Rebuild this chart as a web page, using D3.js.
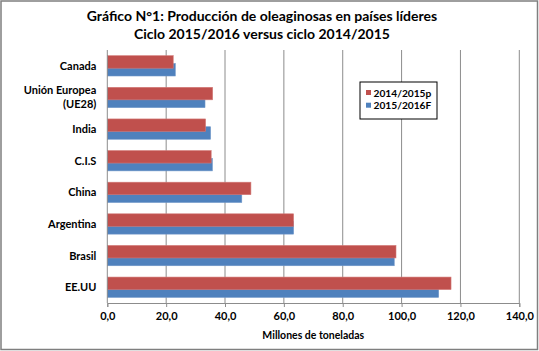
<!DOCTYPE html>
<html>
<head>
<meta charset="utf-8">
<script src="https://cdn.jsdelivr.net/npm/d3@7"></script>
<style>
  body { margin: 0; background: #fff; }
  text { font-family: Lato, "Open Sans", sans-serif; font-weight: bold; fill: #000; }
</style>
</head>
<body>
<div id="chart"></div>
<script>
// data (millones de toneladas)
var paises = ["Canada", "Unión Europea|(UE28)", "India", "C.I.S", "China", "Argentina", "Brasil", "EE.UU"];
var serie2014 = [22.4, 35.8, 33.4, 35.3, 48.8, 63.3, 98.1, 116.8];
var serie2015 = [23.1, 33.2, 35.1, 35.7, 45.7, 63.3, 97.5, 112.6];
var seriesNames = ["2014/2015p", "2015/2016F"];
var xTicks = [0, 20, 40, 60, 80, 100, 120, 140];

var W = 539, H = 351;
var margin = {top: 50, right: 19.7, bottom: 48, left: 107.3};
var width = W - margin.left - margin.right,
    height = H - margin.top - margin.bottom;

var svg = d3.select("#chart").append("svg")
    .attr("width", W)
    .attr("height", H);

// outer frame
svg.append("rect")
    .attr("x", 1).attr("y", 1)
    .attr("width", W - 2.5).attr("height", H - 2.5)
    .attr("fill", "#fff")
    .attr("stroke", "#7f7f7f")
    .attr("stroke-width", 1.5);

// title
svg.append("text")
    .attr("x", 262).attr("y", 21)
    .attr("text-anchor", "middle")
    .style("font-size", "14px")
    .text("Gráfico N°1: Producción de oleaginosas en países líderes");
svg.append("text")
    .attr("x", 262).attr("y", 39)
    .attr("text-anchor", "middle")
    .style("font-size", "14px")
    .text("Ciclo 2015/2016 versus ciclo 2014/2015");

var g = svg.append("g")
    .attr("transform", "translate(" + margin.left + "," + margin.top + ")");

var x = d3.scaleLinear().domain([0, 140]).range([0, width]);
var y = d3.scaleBand().domain(paises).range([0, height]).paddingInner(0.36).paddingOuter(0.18);

// vertical gridlines
g.selectAll(".grid").data(xTicks.slice(1)).enter()
  .append("line")
    .attr("x1", function(d) { return x(d); })
    .attr("x2", function(d) { return x(d); })
    .attr("y1", 0).attr("y2", height)
    .attr("stroke", "#8c8c8c")
    .attr("stroke-width", 1);

// bars: blue below, red on top, overlapping a bit
var barH = 12.5, overlap = 4.7;
var group = g.selectAll(".pais").data(paises).enter().append("g");

group.append("rect")
    .attr("x", 0)
    .attr("y", function(d) { return y(d) + barH - overlap; })
    .attr("width", function(d, i) { return x(serie2015[i]); })
    .attr("height", barH)
    .attr("fill", "#4f81bd")
    .attr("stroke", "#6f96c8")
    .attr("stroke-width", 0.6);

group.append("rect")
    .attr("x", 0)
    .attr("y", function(d) { return y(d); })
    .attr("width", function(d, i) { return x(serie2014[i]); })
    .attr("height", barH)
    .attr("fill", "#c0504d")
    .attr("stroke", "#d27a78")
    .attr("stroke-width", 0.6);

// x axis
var xAxis = g.append("g")
    .attr("transform", "translate(0," + height + ")")
    .call(d3.axisBottom(x).tickValues(xTicks).tickSize(4).tickPadding(5)
      .tickFormat(function(d) { return d3.format(".1f")(d).replace(".", ","); }));
xAxis.select(".domain").attr("stroke", "#8c8c8c");
xAxis.selectAll(".tick line").attr("stroke", "#8c8c8c");
xAxis.selectAll("text").style("font-size", "11px").style("font-family", "Lato, sans-serif");

// left axis line
g.append("line")
    .attr("x1", 0).attr("x2", 0).attr("y1", 0).attr("y2", height)
    .attr("stroke", "#8c8c8c");

// category labels
g.selectAll(".cat").data(paises).enter()
  .append("text")
    .attr("text-anchor", "end")
    .style("font-size", "11px")
    .each(function(d) {
      var lines = d.split("|");
      var cy = y(d) + y.bandwidth() / 2;
      var t = d3.select(this);
      lines.forEach(function(l, k) {
        t.append("tspan")
          .attr("x", -11)
          .attr("y", cy + 4 + (k - (lines.length - 1) / 2) * 14)
          .text(l);
      });
    });

// axis title
svg.append("text")
    .attr("x", margin.left + width / 2)
    .attr("y", 339)
    .attr("text-anchor", "middle")
    .style("font-size", "10.5px")
    .text("Millones de toneladas");

// legend
var leg = svg.append("g").attr("transform", "translate(360,82)");
leg.append("rect")
    .attr("width", 77).attr("height", 37)
    .attr("fill", "#fff")
    .attr("stroke", "#000")
    .attr("stroke-width", 1);
var legColors = ["#c0504d", "#4f81bd"];
seriesNames.forEach(function(s, i) {
  leg.append("rect")
    .attr("x", 6).attr("y", 8 + i * 12.7)
    .attr("width", 5).attr("height", 5)
    .attr("fill", legColors[i]);
  leg.append("text")
    .attr("x", 13.5).attr("y", 14.5 + i * 12.7)
    .style("font-size", "10.2px")
    .text(s);
});
</script>
</body>
</html>
